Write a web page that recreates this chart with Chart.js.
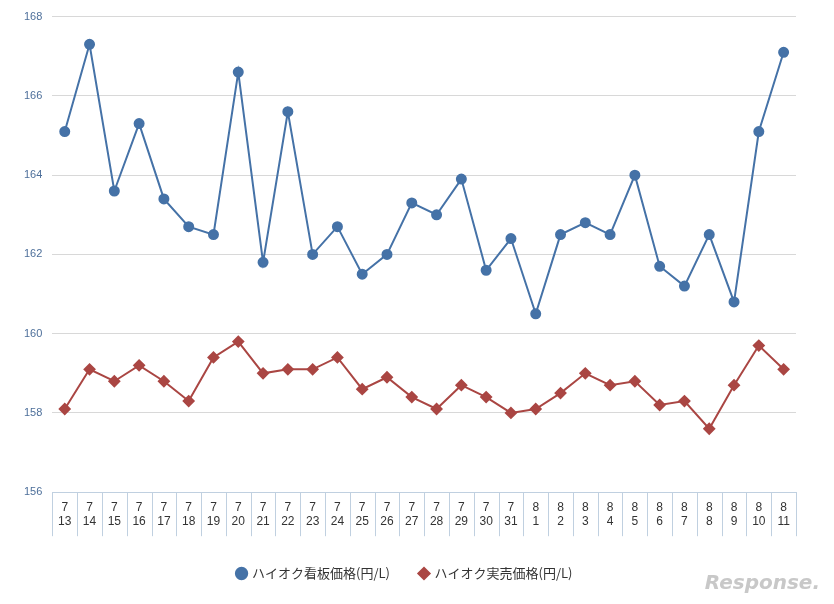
<!DOCTYPE html>
<html lang="ja">
<head>
<meta charset="UTF-8" />
<title>ハイオク価格</title>
<script src="https://cdn.jsdelivr.net/npm/chart.js"></script>
<style>
  body { margin: 0; background: #fff; }
  #wrap { position: relative; width: 834px; height: 604px; }
  #logo { position: absolute; right: 14px; bottom: 10px; font: italic bold 20px "DejaVu Sans", sans-serif; color: #c8c8c8; }
</style>
</head>
<body>
<div id="wrap">
  <canvas id="chart" width="834" height="604"></canvas>
  <div id="logo">Response.</div>
</div>
<script>
const months = ['7','7','7','7','7','7','7','7','7','7','7','7','7','7','7','7','7','7','7','8','8','8','8','8','8','8','8','8','8','8'];
const days = ['13','14','15','16','17','18','19','20','21','22','23','24','25','26','27','28','29','30','31','1','2','3','4','5','6','7','8','9','10','11'];
const signPrice = [165.1,167.3,163.6,165.3,163.4,162.7,162.5,166.6,161.8,165.6,162.0,162.7,161.5,162.0,163.3,163.0,163.9,161.6,162.4,160.5,162.5,162.8,162.5,164.0,161.7,161.2,162.5,160.8,165.1,167.1];
const realPrice = [158.1,159.1,158.8,159.2,158.8,158.3,159.4,159.8,159.0,159.1,159.1,159.4,158.6,158.9,158.4,158.1,158.7,158.4,158.0,158.1,158.5,159.0,158.7,158.8,158.2,158.3,157.6,158.7,159.7,159.1];

// separators between category labels, under the x axis
const separators = {
  id: 'separators',
  afterDraw(chart) {
    const x = chart.scales.x, ctx = chart.ctx, y0 = chart.chartArea.bottom;
    const step = x.getPixelForValue(1) - x.getPixelForValue(0);
    ctx.save();
    ctx.strokeStyle = '#c0d0e0';
    ctx.lineWidth = 1;
    ctx.beginPath();
    for (let i = 0; i <= months.length; i++) {
      const px = Math.round(x.getPixelForValue(i) - step / 2) + 0.5;
      ctx.moveTo(px, y0);
      ctx.lineTo(px, y0 + 44);
    }
    ctx.stroke();
    ctx.restore();
  }
};

new Chart(document.getElementById('chart'), {
  type: 'line',
  data: {
    labels: months.map((m, i) => [m, days[i]]),
    datasets: [
      { label: 'ハイオク看板価格(円/L)', data: signPrice, borderColor: '#4572A7', backgroundColor: '#4572A7',
        borderWidth: 2, pointRadius: 4.5, pointStyle: 'circle', tension: 0 },
      { label: 'ハイオク実売価格(円/L)', data: realPrice, borderColor: '#AA4643', backgroundColor: '#AA4643',
        borderWidth: 2, pointRadius: 5, pointStyle: 'rectRot', tension: 0 }
    ]
  },
  options: {
    responsive: false,
    animation: false,
    layout: { padding: { left: 14, right: 38, top: 12, bottom: 14 } },
    plugins: {
      legend: {
        position: 'bottom',
        labels: { usePointStyle: true, boxWidth: 8, boxHeight: 8, padding: 30, color: '#333', font: { size: 13, family: 'Noto Sans CJK JP' } }
      },
      tooltip: { enabled: false }
    },
    scales: {
      x: {
        offset: true,
        grid: { drawOnChartArea: false, drawTicks: false },
        border: { color: '#c0d0e0' },
        ticks: { color: '#333', font: { size: 12 }, maxRotation: 0, autoSkip: false, padding: 8 }
      },
      y: {
        min: 156, max: 168,
        ticks: { stepSize: 2, color: '#4d6f9a', font: { size: 11 }, padding: 10 },
        grid: { color: '#d8d8d8', drawTicks: false },
        border: { display: false }
      }
    }
  },
  plugins: [separators]
});
</script>
</body>
</html>
